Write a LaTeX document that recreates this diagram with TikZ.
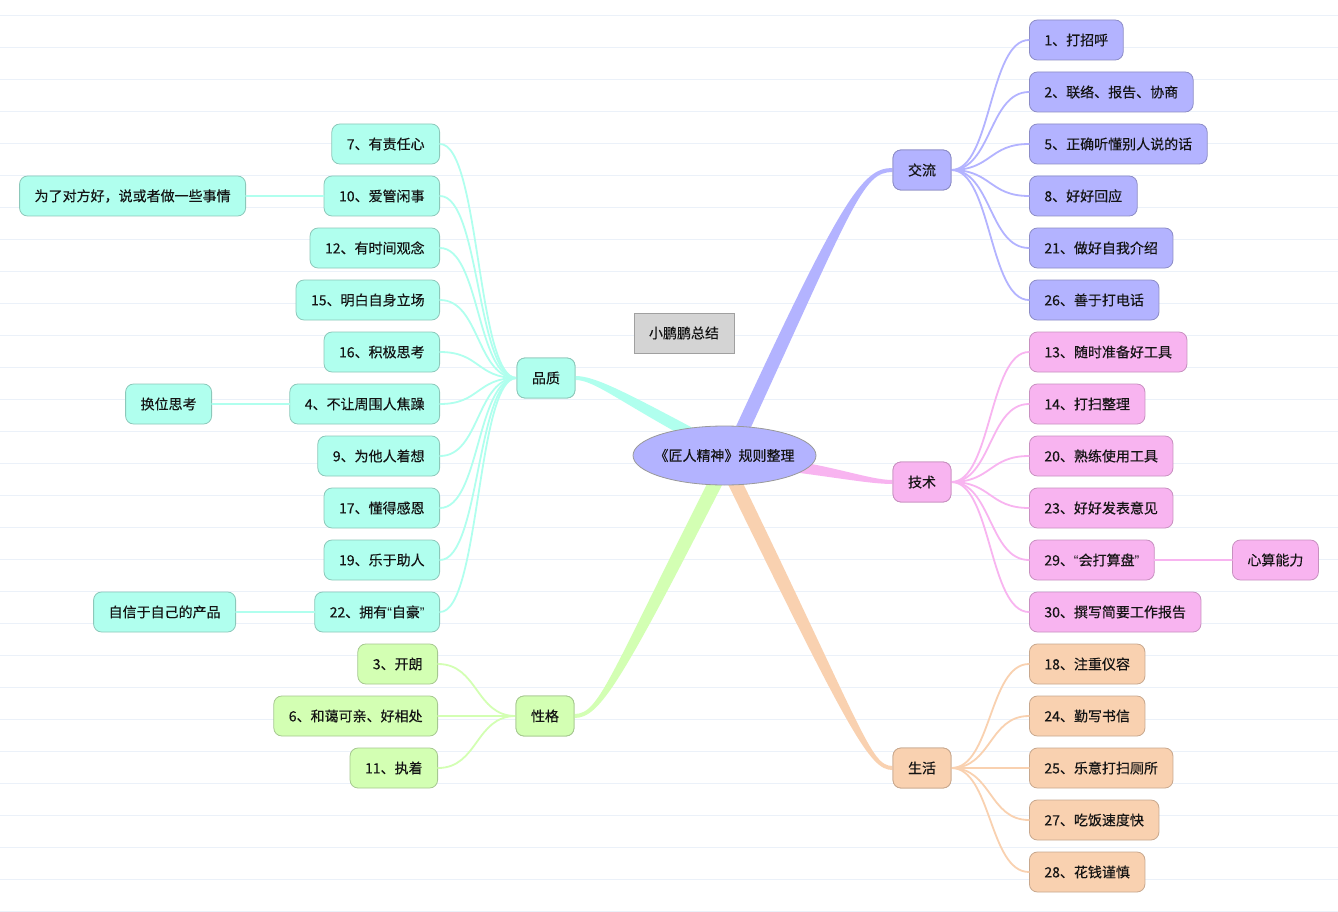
\documentclass[tikz,border=0pt]{standalone}
\usepackage{fontspec}
\setmainfont[FakeBold=0.35]{Noto Sans CJK SC}
\newfontfamily\qtfont{Liberation Sans}
\newcommand{\lqt}{{\qtfont “}}
\newcommand{\rqt}{{\qtfont ”}}
\usetikzlibrary{calc,shapes.geometric}
\definecolor{bfill}{HTML}{B3B3FF}
\definecolor{bdraw}{HTML}{8C8CC6}
\definecolor{pfill}{HTML}{F8B4F0}
\definecolor{pdraw}{HTML}{C890C0}
\definecolor{ofill}{HTML}{F9D1B0}
\definecolor{odraw}{HTML}{C8A88E}
\definecolor{cfill}{HTML}{B0FFEE}
\definecolor{cdraw}{HTML}{8CC8BA}
\definecolor{gfill}{HTML}{D3FFB3}
\definecolor{gdraw}{HTML}{A6C890}
\definecolor{rulecol}{HTML}{EBF1F9}
\definecolor{sumfill}{HTML}{D4D4D4}
\definecolor{sumdraw}{HTML}{A0A0A0}
\definecolor{txt}{HTML}{141414}
\tikzset{
  boxbase/.style={rounded corners=8pt, minimum height=40pt, inner xsep=15pt, inner ysep=0pt,
    font=\fontsize{14pt}{16pt}\selectfont, text=txt, line width=0.8pt},
  bbox/.style={boxbase, fill=bfill, draw=bdraw},
  pbox/.style={boxbase, fill=pfill, draw=pdraw},
  obox/.style={boxbase, fill=ofill, draw=odraw},
  cbox/.style={boxbase, fill=cfill, draw=cdraw},
  gbox/.style={boxbase, fill=gfill, draw=gdraw},
  link/.style={line width=1.8pt, line cap=round},
  rline/.style={draw=rulecol, line width=1.3pt},
}
\newcommand{\taperlink}[7]{%
  \fill[#7] let \p0=#1, \p1=#2, \p2=#3, \p3=#4,
    \n1={atan2(\y1-\y0,\x1-\x0)}, \n2={atan2(\y3-\y2,\x3-\x2)} in
    ($(\p0)+(\n1+90:#5)$) .. controls ($(\p1)+(\n1+90:#5)$) and ($(\p2)+(\n2+90:#6)$) .. ($(\p3)+(\n2+90:#6)$)
    -- ($(\p3)+(\n2-90:#6)$) .. controls ($(\p2)+(\n2-90:#6)$) and ($(\p1)+(\n1-90:#5)$) .. ($(\p0)+(\n1-90:#5)$) -- cycle;}
\begin{document}
\begin{tikzpicture}[x=1pt,y=-1pt]
\useasboundingbox (0,0) rectangle (1338,912);
\fill[white] (0,0) rectangle (1338,912);
\foreach \k in {0,...,28} \draw[rline] (0,{15.5+32*\k}) -- (1338,{15.5+32*\k});

% branch nodes
\node[bbox] (jl) at (922,170) {交流};
\node[pbox] (js) at (922,482) {技术};
\node[obox] (sh) at (922,768) {生活};
\node[cbox] (pz) at (546,378) {品质};
\node[gbox] (xg) at (545,716) {性格};

% main tapered connectors
\taperlink{(730,456)}{(848,200)}{(862,170)}{(jl.west)}{7pt}{2pt}{bfill}
\taperlink{(760,462)}{(830,470)}{(868,482)}{(js.west)}{6pt}{2pt}{pfill}
\taperlink{(722,456)}{(858,735)}{(870,768)}{(sh.west)}{7pt}{2pt}{ofill}
\taperlink{(712,445)}{(622,397)}{(595,378)}{(pz.east)}{6pt}{2pt}{cfill}
\taperlink{(729,456)}{(615,680)}{(600,716)}{(xg.east)}{7pt}{2pt}{gfill}

% 交流 children
\node[bbox, anchor=west] (b1) at (1029,40) {1、打招呼};
\node[bbox, anchor=west] (b2) at (1029,92) {2、联络、报告、协商};
\node[bbox, anchor=west] (b3) at (1029,144) {5、正确听懂别人说的话};
\node[bbox, anchor=west] (b4) at (1029,196) {8、好好回应};
\node[bbox, anchor=west] (b5) at (1029,248) {21、做好自我介绍};
\node[bbox, anchor=west] (b6) at (1029,300) {26、善于打电话};
\foreach \c in {b1,b2,b3,b4,b5,b6}
  \draw[link, draw=bfill] (jl.east) .. controls +(40,0) and +(-40,0) .. (\c.west);

% 技术 children
\node[pbox, anchor=west] (p1) at (1029,352) {13、随时准备好工具};
\node[pbox, anchor=west] (p2) at (1029,404) {14、打扫整理};
\node[pbox, anchor=west] (p3) at (1029,456) {20、熟练使用工具};
\node[pbox, anchor=west] (p4) at (1029,508) {23、好好发表意见};
\node[pbox, anchor=west] (p5) at (1029,560) {29、\lqt 会打算盘\rqt};
\node[pbox, anchor=west] (p6) at (1029,612) {30、撰写简要工作报告};
\node[pbox, anchor=west] (p7) at (1232,560) {心算能力};
\foreach \c in {p1,p2,p3,p4,p5,p6}
  \draw[link, draw=pfill] (js.east) .. controls +(40,0) and +(-40,0) .. (\c.west);
\draw[link, draw=pfill] (p5.east) -- (p7.west);

% 生活 children
\node[obox, anchor=west] (o1) at (1029,664) {18、注重仪容};
\node[obox, anchor=west] (o2) at (1029,716) {24、勤写书信};
\node[obox, anchor=west] (o3) at (1029,768) {25、乐意打扫厕所};
\node[obox, anchor=west] (o4) at (1029,820) {27、吃饭速度快};
\node[obox, anchor=west] (o5) at (1029,872) {28、花钱谨慎};
\foreach \c in {o1,o2,o3,o4,o5}
  \draw[link, draw=ofill] (sh.east) .. controls +(40,0) and +(-40,0) .. (\c.west);

% 品质 children
\node[cbox, anchor=east] (q1) at (440,144) {7、有责任心};
\node[cbox, anchor=east] (q2) at (440,196) {10、爱管闲事};
\node[cbox, anchor=east] (q3) at (440,248) {12、有时间观念};
\node[cbox, anchor=east] (q4) at (440,300) {15、明白自身立场};
\node[cbox, anchor=east] (q5) at (440,352) {16、积极思考};
\node[cbox, anchor=east] (q6) at (440,404) {4、不让周围人焦躁};
\node[cbox, anchor=east] (q7) at (440,456) {9、为他人着想};
\node[cbox, anchor=east] (q8) at (440,508) {17、懂得感恩};
\node[cbox, anchor=east] (q9) at (440,560) {19、乐于助人};
\node[cbox, anchor=east] (q10) at (440,612) {22、拥有\lqt 自豪\rqt};
\foreach \c in {q1,q2,q3,q4,q5,q6,q7,q8,q9,q10}
  \draw[link, draw=cfill] (pz.west) .. controls +(-40,0) and +(40,0) .. (\c.east);
\node[cbox, anchor=east] (r1) at (246,196) {为了对方好，说或者做一些事情};
\node[cbox, anchor=east] (r2) at (212,404) {换位思考};
\node[cbox, anchor=east] (r3) at (236,612) {自信于自己的产品};
\draw[link, draw=cfill] (q2.west) -- (r1.east);
\draw[link, draw=cfill] (q6.west) -- (r2.east);
\draw[link, draw=cfill] (q10.west) -- (r3.east);

% 性格 children
\node[gbox, anchor=east] (g1) at (438,664) {3、开朗};
\node[gbox, anchor=east] (g2) at (438,716) {6、和蔼可亲、好相处};
\node[gbox, anchor=east] (g3) at (438,768) {11、执着};
\foreach \c in {g1,g2,g3}
  \draw[link, draw=gfill] (xg.west) .. controls +(-40,0) and +(40,0) .. (\c.east);

% redraw branch nodes on top
\node[bbox] at (jl) {交流};
\node[pbox] at (js) {技术};
\node[obox] at (sh) {生活};
\node[cbox] at (pz) {品质};
\node[gbox] at (xg) {性格};

% center
\node[ellipse, minimum width=183pt, minimum height=59pt, fill=bfill, draw=gray!80, line width=0.8pt,
  font=\fontsize{14pt}{16pt}\selectfont, text=txt, inner sep=0pt] (root) at (724.5,455.5) {\makebox[0pt]{《匠人精神》规则整理}};
\node[minimum width=100pt, minimum height=40pt, fill=sumfill, draw=sumdraw, line width=0.8pt,
  font=\fontsize{14pt}{16pt}\selectfont, text=txt] (sum) at (684,333) {小鹏鹏总结};
\end{tikzpicture}
\end{document}
